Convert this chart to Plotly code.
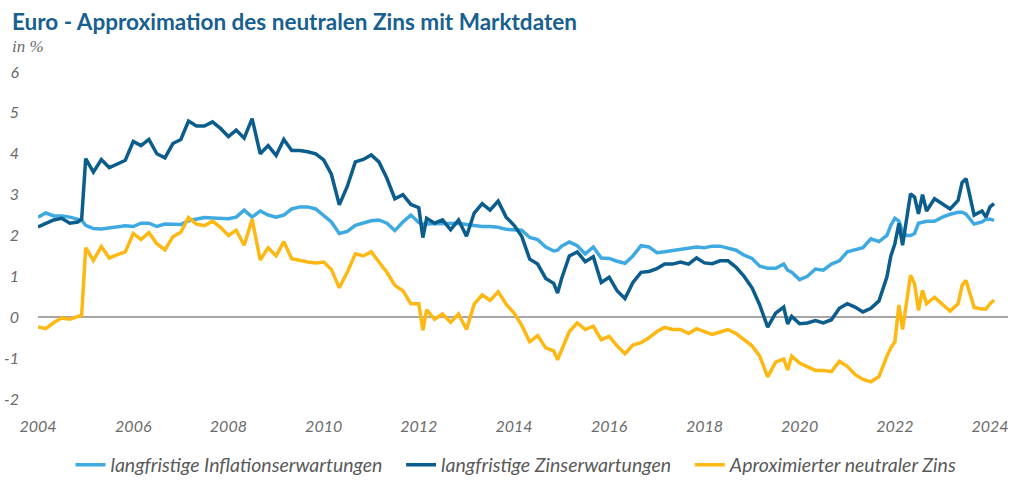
import plotly.graph_objects as go

dates = ["2004-01","2004-03","2004-05","2004-07","2004-09","2004-11","2004-12",
         "2005-01","2005-03","2005-05","2005-07","2005-09","2005-11",
         "2006-01","2006-03","2006-05","2006-07","2006-09","2006-11",
         "2007-01","2007-03","2007-05","2007-07","2007-09","2007-11",
         "2008-01","2008-03","2008-05","2008-07","2008-09","2008-11",
         "2009-01","2009-03","2009-05","2009-07","2009-09","2009-11",
         "2010-01","2010-03","2010-05","2010-07","2010-09","2010-11",
         "2011-01","2011-03","2011-05","2011-07","2011-09","2011-11",
         "2012-01","2012-02","2012-03","2012-05","2012-07","2012-09","2012-11",
         "2013-01","2013-03","2013-05","2013-07","2013-09","2013-11",
         "2014-01","2014-03","2014-05","2014-07","2014-09","2014-11","2014-12",
         "2015-01","2015-03","2015-05","2015-07","2015-09","2015-11",
         "2016-01","2016-03","2016-05","2016-07","2016-09","2016-11",
         "2017-01","2017-03","2017-05","2017-07","2017-09","2017-11",
         "2018-01","2018-03","2018-05","2018-07","2018-09","2018-11",
         "2019-01","2019-03","2019-05","2019-07","2019-09","2019-10","2019-11",
         "2020-01","2020-03","2020-05","2020-07","2020-09","2020-11",
         "2021-01","2021-03","2021-05","2021-07","2021-09","2021-11","2021-12",
         "2022-01","2022-02","2022-03","2022-04","2022-05","2022-06","2022-07",
         "2022-08","2022-09","2022-11",
         "2023-01","2023-03","2023-05","2023-06","2023-07","2023-09","2023-11","2023-12",
         "2024-01","2024-02"]

inflation = [2.45,2.55,2.48,2.48,2.45,2.40,2.37,
             2.25,2.17,2.16,2.18,2.22,2.24,
             2.22,2.30,2.30,2.22,2.28,2.28,
             2.27,2.36,2.40,2.44,2.43,2.41,
             2.41,2.45,2.62,2.45,2.60,2.50,
             2.45,2.50,2.65,2.70,2.70,2.65,
             2.50,2.33,2.05,2.10,2.25,2.30,
             2.36,2.38,2.30,2.12,2.33,2.50,
             2.32,2.28,2.28,2.30,2.30,2.30,2.30,
             2.27,2.24,2.22,2.22,2.20,2.15,
             2.13,2.13,1.95,1.90,1.72,1.62,1.64,
             1.74,1.84,1.75,1.55,1.72,1.45,
             1.44,1.37,1.32,1.50,1.75,1.72,
             1.58,1.60,1.63,1.65,1.70,1.72,
             1.70,1.74,1.74,1.70,1.64,1.52,
             1.44,1.25,1.20,1.20,1.30,1.15,1.10,
             0.92,1.00,1.18,1.15,1.30,1.38,
             1.60,1.64,1.70,1.92,1.85,2.00,2.25,
             2.42,2.35,2.10,2.00,2.00,2.05,2.30,
             2.33,2.35,2.35,
             2.45,2.52,2.57,2.57,2.52,2.28,2.33,2.40,
             2.40,2.37]

zins = [2.21,2.30,2.38,2.42,2.30,2.33,2.40,
        3.88,3.55,3.86,3.66,3.75,3.84,
        4.30,4.20,4.35,4.00,3.90,4.25,
        4.35,4.80,4.68,4.68,4.78,4.62,
        4.42,4.58,4.38,4.86,4.00,4.20,
        3.96,4.35,4.08,4.08,4.05,4.00,
        3.85,3.50,2.75,3.20,3.80,3.86,
        3.97,3.80,3.40,2.90,3.00,2.76,
        2.68,1.95,2.42,2.30,2.38,2.14,2.38,
        1.98,2.55,2.78,2.62,2.84,2.45,
        2.25,1.98,1.42,1.30,0.95,0.83,0.59,
        0.95,1.50,1.60,1.36,1.48,0.85,
        0.98,0.65,0.46,0.85,1.10,1.12,
        1.19,1.30,1.30,1.35,1.30,1.45,
        1.33,1.31,1.38,1.38,1.22,1.00,
        0.72,0.30,-0.24,0.10,0.25,-0.16,0.02,
        -0.16,-0.14,-0.08,-0.14,-0.06,0.22,
        0.33,0.25,0.13,0.22,0.40,0.99,1.50,
        1.80,2.30,1.76,2.35,3.02,2.94,2.53,
        3.00,2.60,2.90,
        2.78,2.65,2.86,3.30,3.39,2.50,2.60,2.45,
        2.70,2.78]

neutral = [-0.24,-0.28,-0.13,-0.02,-0.05,0.03,0.05,
           1.70,1.39,1.73,1.45,1.53,1.60,
           2.05,1.90,2.07,1.80,1.65,1.97,
           2.08,2.44,2.28,2.24,2.35,2.20,
           2.00,2.13,1.76,2.40,1.40,1.70,
           1.50,1.85,1.43,1.38,1.35,1.33,
           1.35,1.17,0.72,1.10,1.55,1.50,
           1.60,1.35,1.10,0.78,0.65,0.33,
           0.33,-0.32,0.18,-0.05,0.08,-0.12,0.08,
           -0.30,0.32,0.55,0.41,0.62,0.32,
           0.10,-0.20,-0.60,-0.45,-0.75,-0.82,-1.04,
           -0.82,-0.35,-0.14,-0.30,-0.22,-0.55,
           -0.47,-0.70,-0.89,-0.68,-0.62,-0.50,
           -0.35,-0.25,-0.30,-0.30,-0.40,-0.28,
           -0.35,-0.42,-0.36,-0.30,-0.40,-0.55,
           -0.70,-0.95,-1.46,-1.10,-1.02,-1.29,-0.95,
           -1.12,-1.20,-1.30,-1.30,-1.33,-1.08,
           -1.20,-1.40,-1.52,-1.58,-1.45,-0.95,-0.75,
           -0.60,0.30,-0.30,0.35,1.03,0.82,0.17,
           0.66,0.33,0.49,
           0.33,0.15,0.33,0.78,0.90,0.24,0.20,0.20,
           0.33,0.42]

series_names = ["langfristige Inflationserwartungen",
                "langfristige Zinserwartungen",
                "Aproximierter neutraler Zins"]
series_colors = ["#3fa9e1", "#0a5d8c", "#fdb813"]
series_values = [inflation, zins, neutral]

tick_years = ["2004","2006","2008","2010","2012","2014","2016","2018","2020","2022","2024"]
y_ticks = [-2, -1, 0, 1, 2, 3, 4, 5, 6]

fig = go.Figure()
for name, color, vals in zip(series_names, series_colors, series_values):
    fig.add_trace(go.Scatter(x=dates, y=vals, name=name + "&nbsp;&nbsp;&nbsp;", mode="lines",
                             line=dict(color=color, width=3.5)))

tick_font = dict(family="Lato, 'Open Sans', sans-serif", size=16, color="#6b6b6b", style="italic")

fig.update_layout(
    width=1024, height=493,
    paper_bgcolor="white", plot_bgcolor="white",
    margin=dict(l=38, r=16, t=72, b=94, autoexpand=False),
    showlegend=True,
    legend=dict(orientation="h", x=0.5, xanchor="center", y=-0.202, yanchor="middle",
                font=dict(family="Lato, 'Open Sans', sans-serif", size=19.5, color="#5a5a5a", style="italic"),
                itemwidth=30, tracegroupgap=0),
    xaxis=dict(type="date", range=["2004-01-01", "2024-05-18"], automargin=False,
               tickvals=[y + "-01-01" for y in tick_years], ticktext=tick_years,
               showgrid=False, showline=False, zeroline=False, ticks="",
               tickfont=tick_font, ticklabelstandoff=16),
    yaxis=dict(range=[-2, 6], tickvals=y_ticks, ticktext=[str(v) for v in y_ticks], automargin=False,
               showgrid=False, showline=False, zeroline=True, zerolinecolor="#a6a6a6",
               zerolinewidth=1.5, ticks="", tickfont=tick_font, ticklabelstandoff=18),
    annotations=[
        dict(text="<b>Euro - Approximation des neutralen Zins mit Marktdaten</b>",
             xref="paper", yref="paper", x=-0.0289, y=1.153, xanchor="left", yanchor="middle",
             showarrow=False, font=dict(family="Lato, 'Open Sans', sans-serif", size=22.5, color="#17608f")),
        dict(text="in %", xref="paper", yref="paper", x=-0.0289, y=1.0795,
             xanchor="left", yanchor="middle", showarrow=False,
             font=dict(family="'Liberation Serif', serif", size=17, color="#6b6b6b", style="italic")),
    ],
)

fig.write_html("out.html", config={"displayModeBar": False},
               post_script="document.body.style.margin='0';")
